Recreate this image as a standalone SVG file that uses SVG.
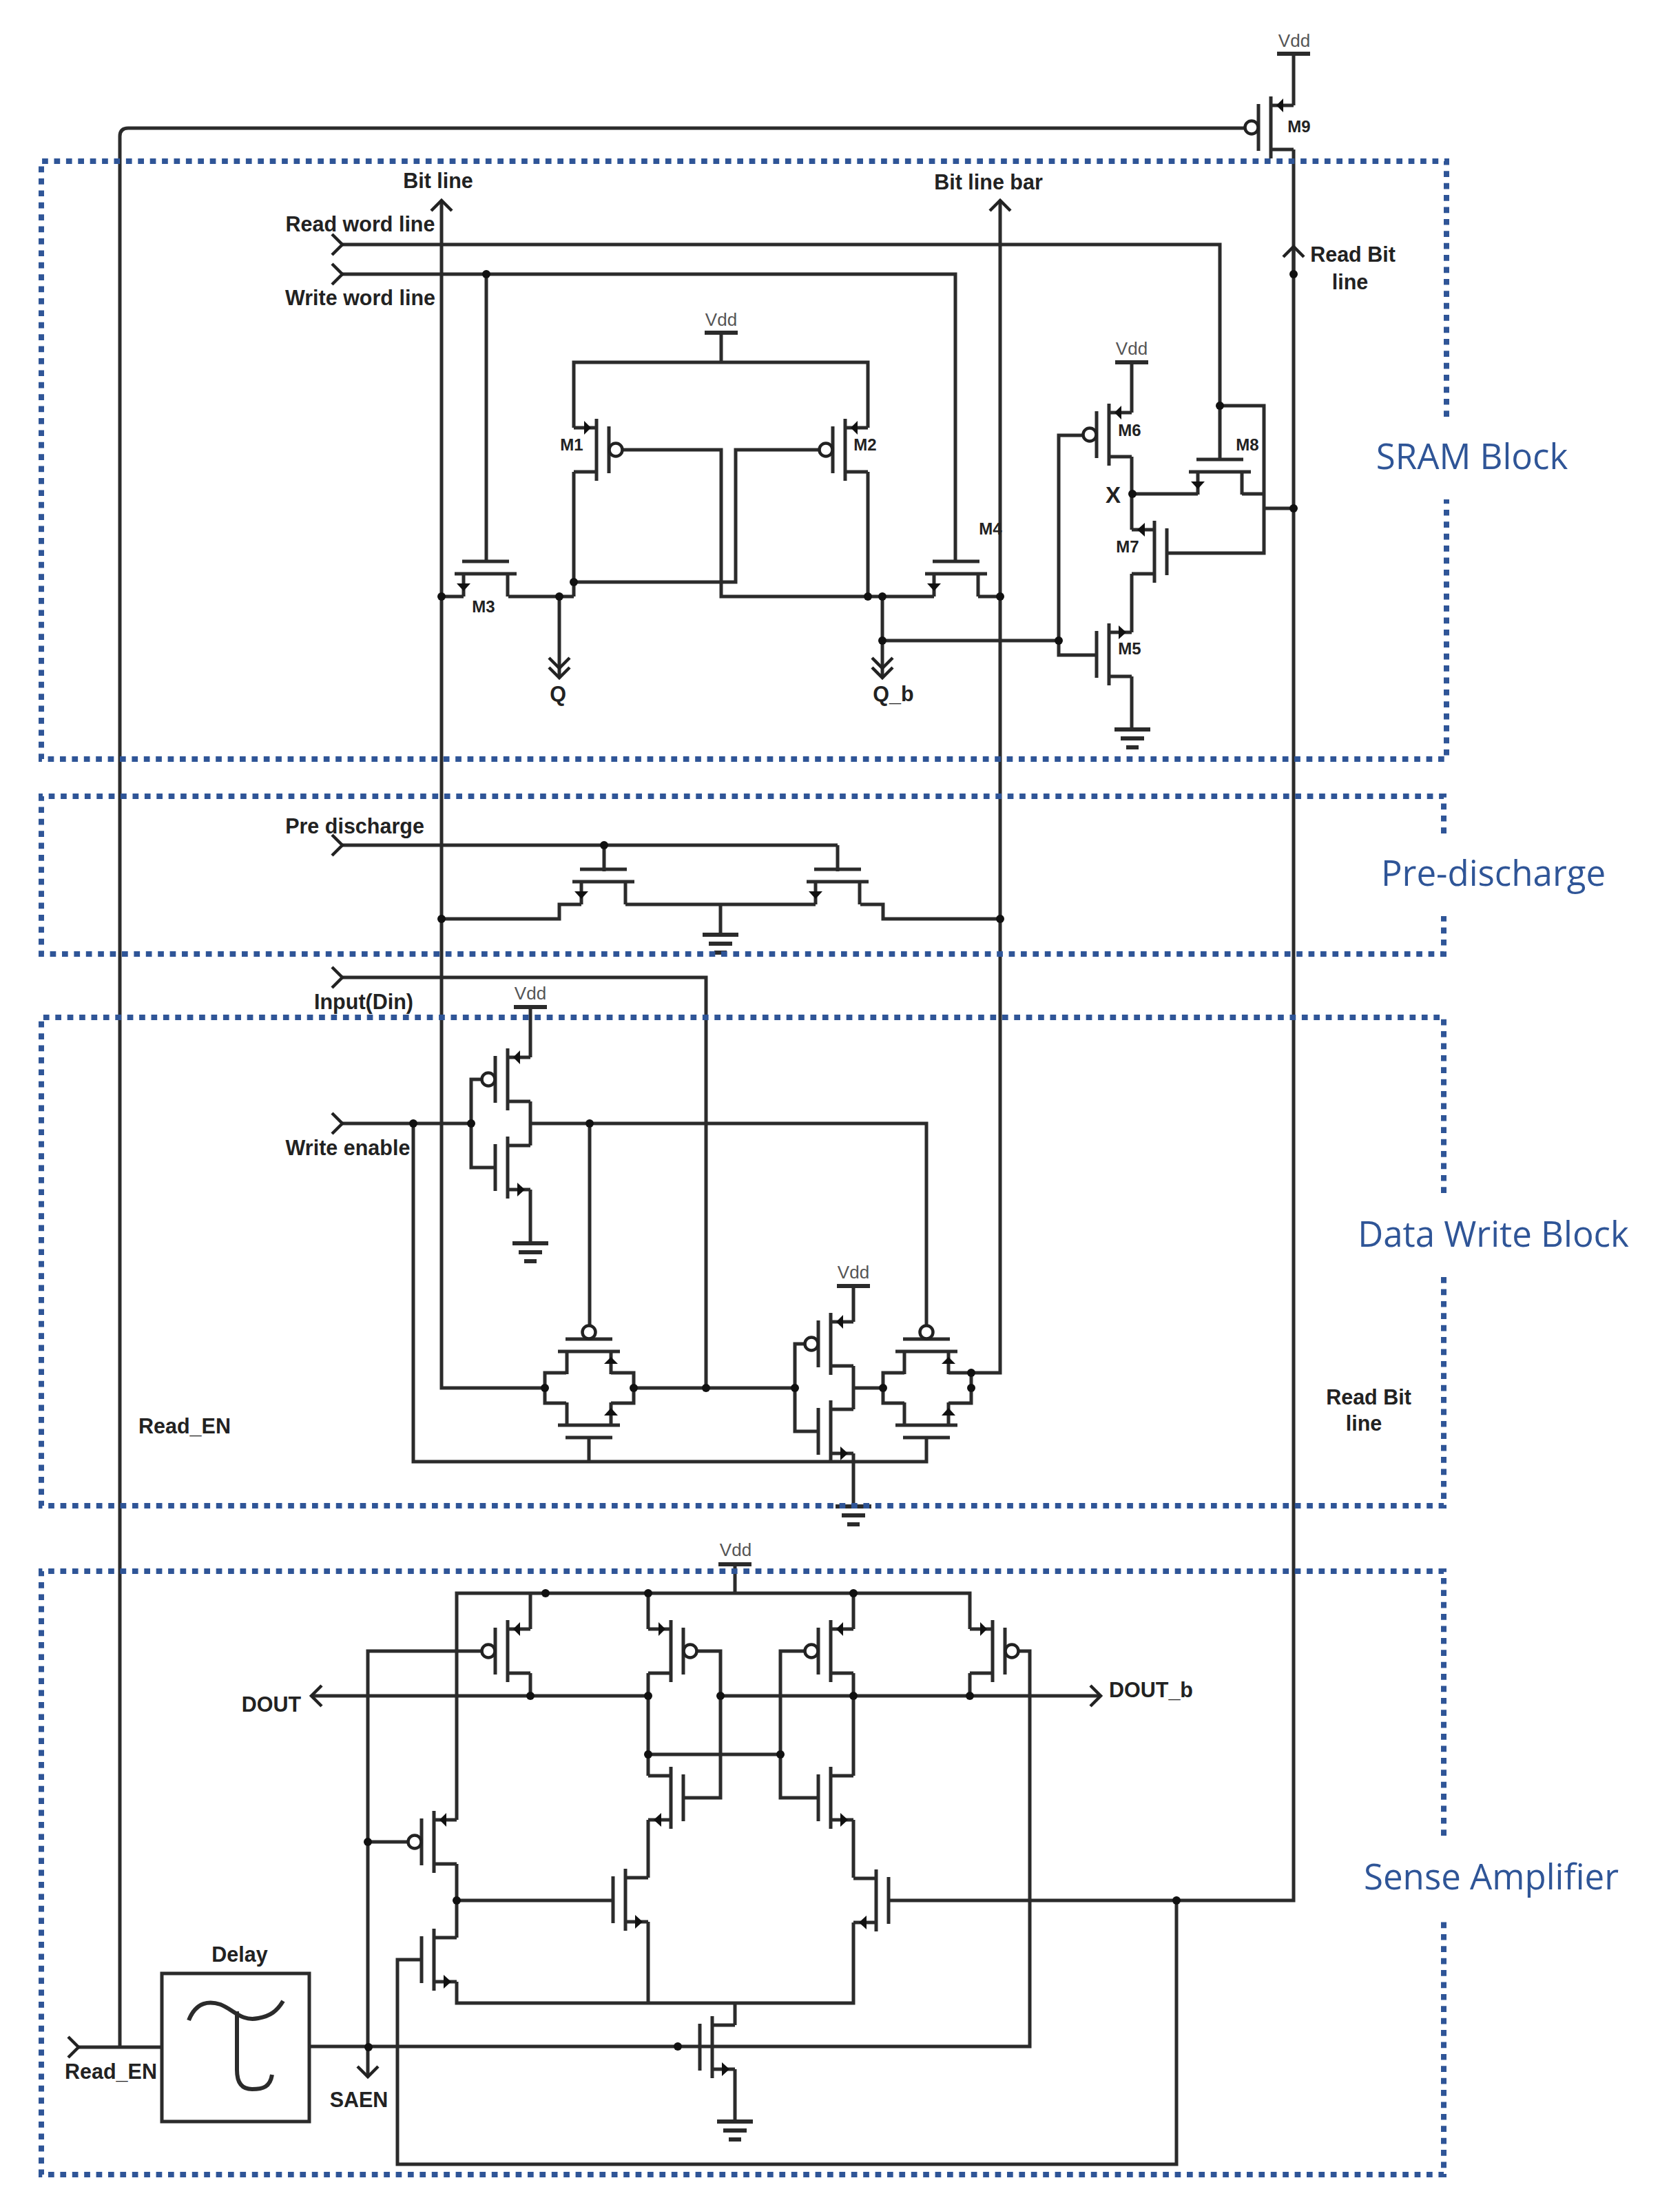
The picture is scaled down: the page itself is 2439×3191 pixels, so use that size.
<svg xmlns="http://www.w3.org/2000/svg" width="2439" height="3191" viewBox="0 0 2439 3191">
<style>
text{font-family:"Liberation Sans",Arial,sans-serif;font-weight:700;font-size:30.5px;fill:#222;text-anchor:middle}
text.m{font-size:24px}
text.v{font-size:26px;font-weight:400;fill:#555}
text.s{font-family:"Open Sans",sans-serif;font-weight:400;font-size:51px;fill:#2F5597}
.w,.t path,.t line,.p{fill:none;stroke:#2b2b2b;stroke-width:5}
.t path.mk{fill:#111;stroke:none}
.bub{fill:#fff;stroke:#222;stroke-width:4.5}
.bar{stroke:#2b2b2b;stroke-width:6;fill:none}
.j circle{fill:#111}
.box{fill:none;stroke:#2F5597;stroke-width:8;stroke-dasharray:8.7 8.7}
</style>
<defs>
<marker id="chev" markerUnits="userSpaceOnUse" markerWidth="24" markerHeight="40" refX="20" refY="20" orient="auto" overflow="visible">
<path d="M5 5L20 20L5 35" fill="none" stroke="#222" stroke-width="4.5"/>
</marker>
<g id="pfet" class="t">
<path d="M0 -45V45M-18 -34V34M0 -32H33M0 32H33"/>
<path class="mk" d="M8 -32L18 -42V-22Z"/>
<circle class="bub" cx="-28" cy="0" r="9.5"/>
</g>
<g id="nfet" class="t">
<path d="M0 -45V45M-18 -34V34M0 -32H33M0 32H33"/>
<path class="mk" d="M14 22L25 32L14 42Z"/>
</g>
<g id="gnd" class="bar">
<path d="M-26 0H26M-17 13H17M-9 26H9"/>
</g>
<path id="vbar" class="bar" d="M-24 0H24"/>
</defs>

<g id="connectors">
<path class="w" d="M174 2972V198Q174 186 186 186H1807"/>
<path class="w" d="M1878 78V153M1878 217V2759H1289"/>
<path class="w" d="M1878 398V358" marker-end="url(#chev)"/>
<path class="w" d="M791 2015H641V291" marker-end="url(#chev)"/>
<path class="w" d="M1410 1993H1452V291" marker-end="url(#chev)"/>
<path class="w" d="M497 355H1771V668" marker-start="url(#chev)"/>
<path class="w" d="M497 398H1387V817" marker-start="url(#chev)"/>
<path class="w" d="M706 398V817"/>
<path class="w" d="M1771 589H1835V803H1694M1803 717H1835M1835 738H1878M1643 717H1739"/>
<path class="w" d="M1047 483V526M833 621V526H1260V621M833 685V866M1260 685V866"/>
<path class="w" d="M738 866H833M833 845H1068V653H1189M904 653H1047V866H1356M673 866H641M1420 866H1452"/>
<path class="w" d="M812 866V970V984" marker-mid="url(#chev)" marker-end="url(#chev)"/>
<path class="w" d="M1281 866V970V984" marker-mid="url(#chev)" marker-end="url(#chev)"/>
<path class="w" d="M1281 930H1537M1571 632H1537V951H1592M1643 526V599M1643 663V769M1643 833V918M1643 982V1059"/>
<path class="w" d="M877 1227V1265M1216 1227V1265M844 1313H812V1334H641M908 1313H1184M1046 1313V1357M1249 1313H1282V1334H1452"/>
<path class="w" d="M497 1227H1216" marker-start="url(#chev)"/>
<path class="w" d="M497 1419H1025V2015" marker-start="url(#chev)"/>
<path class="w" d="M497 1631H684" marker-start="url(#chev)"/>
<path class="w" d="M699 1567H684V1695H719M770 1462V1535M770 1599V1663M770 1727V1805M770 1631H1345V1924M856 1631V1924"/>
<path class="w" d="M600 1631V2122H1345V2085M855 2122V2085"/>
<path class="w" d="M822 1993H791V2037H822M887 1993H920V2037H887M920 2015H1154M1168 1951H1154V2078H1188"/>
<path class="w" d="M1239 1867V1919M1239 1983V2046M1239 2015H1282M1239 2110V2187"/>
<path class="w" d="M1313 1993H1282V2037H1313M1377 1993H1410V2037H1377"/>
<path class="w" d="M1067 2271V2313M663 2642V2313H1408V2365M770 2313V2365M941 2313V2365M1239 2313V2365"/>
<path class="w" d="M770 2429V2462M941 2429V2578M941 2547H1133M941 2642V2726M1239 2429V2578M1239 2642V2726M1408 2429V2462"/>
<path class="w" d="M941 2462H452" marker-end="url(#chev)"/>
<path class="w" d="M1046 2462H1598" marker-end="url(#chev)"/>
<path class="w" d="M1012 2397H1046V2610H992M1168 2397H1133V2610H1188"/>
<path class="w" d="M1479 2397H1495V2971H449"/>
<path class="w" d="M699 2397H534V2972M534 2674H592"/>
<path class="w" d="M534 2971V3015" marker-end="url(#chev)"/>
<path class="w" d="M663 2706V2813M663 2759H890M663 2877V2908H1239V2791M941 2790V2908M1067 2908V2940M1067 3004V3080"/>
<path class="w" d="M1708 2759V3142H577V2845H612"/>
<path class="w" d="M114 2972H235" marker-start="url(#chev)"/>
<g class="j">
<circle cx="706" cy="398" r="6"/><circle cx="1878" cy="398" r="6"/><circle cx="1771" cy="589" r="6"/><circle cx="1644" cy="717" r="6"/><circle cx="1878" cy="738" r="6"/>
<circle cx="1537" cy="930" r="6"/><circle cx="1281" cy="930" r="6"/><circle cx="641" cy="866" r="6"/><circle cx="812" cy="866" r="6"/><circle cx="833" cy="845" r="6"/><circle cx="1260" cy="866" r="6"/><circle cx="1281" cy="866" r="6"/><circle cx="1452" cy="866" r="6"/>
<circle cx="877" cy="1227" r="6"/><circle cx="641" cy="1334" r="6"/><circle cx="1452" cy="1334" r="6"/>
<circle cx="600" cy="1631" r="6"/><circle cx="684" cy="1631" r="6"/><circle cx="856" cy="1631" r="6"/>
<circle cx="791" cy="2015" r="6"/><circle cx="920" cy="2015" r="6"/><circle cx="1025" cy="2015" r="6"/><circle cx="1154" cy="2015" r="6"/><circle cx="1282" cy="2015" r="6"/><circle cx="1410" cy="1993" r="6"/><circle cx="1410" cy="2015" r="6"/>
<circle cx="792" cy="2313" r="6"/><circle cx="941" cy="2313" r="6"/><circle cx="1239" cy="2313" r="6"/>
<circle cx="770" cy="2462" r="6"/><circle cx="941" cy="2462" r="6"/><circle cx="1046" cy="2462" r="6"/><circle cx="1239" cy="2462" r="6"/><circle cx="1408" cy="2462" r="6"/>
<circle cx="941" cy="2547" r="6"/><circle cx="1133" cy="2547" r="6"/><circle cx="534" cy="2674" r="6"/><circle cx="663" cy="2759" r="6"/><circle cx="535" cy="2972" r="6"/><circle cx="984" cy="2971" r="6"/><circle cx="1708" cy="2759" r="6"/>
</g>
</g>

<g id="M1"><use href="#pfet" transform="translate(866,653) scale(-1,1)"/><text class="m" x="830" y="654">M1</text></g>
<g id="M2"><use href="#pfet" transform="translate(1227,653)"/><text class="m" x="1256" y="654">M2</text></g>
<g id="M3"><use href="#nfet" transform="translate(705,833) rotate(90)"/><text class="m" x="702" y="889">M3</text></g>
<g id="M4"><use href="#nfet" transform="translate(1388,833) rotate(90)"/><text class="m" x="1438" y="776">M4</text></g>
<g id="M5"><use href="#nfet" transform="translate(1610,950) scale(1,-1)"/><text class="m" x="1640" y="950">M5</text></g>
<g id="M6"><use href="#pfet" transform="translate(1610,631)"/><text class="m" x="1640" y="633">M6</text></g>
<g id="M7"><use href="#nfet" transform="translate(1676,801) scale(-1,-1)"/><text class="m" x="1637" y="802">M7</text></g>
<g id="M8"><use href="#nfet" transform="translate(1771,685) rotate(90)"/><text class="m" x="1811" y="654">M8</text></g>
<g id="M9"><use href="#pfet" transform="translate(1845,185)"/><text class="m" x="1886" y="192">M9</text></g>

<g id="PD1"><use href="#nfet" transform="translate(876,1280) rotate(90)"/></g>
<g id="PD2"><use href="#nfet" transform="translate(1216,1280) rotate(90)"/></g>

<g id="INV1-P"><use href="#pfet" transform="translate(737,1567)"/></g>
<g id="INV1-N"><use href="#nfet" transform="translate(737,1695)"/></g>
<g id="INV2-P"><use href="#pfet" transform="translate(1206,1951)"/></g>
<g id="INV2-N"><use href="#nfet" transform="translate(1206,2078)"/></g>
<g id="TG1-P"><use href="#pfet" transform="translate(855,1962) rotate(90)"/></g>
<g id="TG1-N"><use href="#nfet" transform="translate(855,2069) rotate(-90)"/></g>
<g id="TG2-P"><use href="#pfet" transform="translate(1345,1962) rotate(90)"/></g>
<g id="TG2-N"><use href="#nfet" transform="translate(1345,2069) rotate(-90)"/></g>

<g id="SA-P1"><use href="#pfet" transform="translate(737,2397)"/></g>
<g id="SA-P2"><use href="#pfet" transform="translate(974,2397) scale(-1,1)"/></g>
<g id="SA-P3"><use href="#pfet" transform="translate(1206,2397)"/></g>
<g id="SA-P4"><use href="#pfet" transform="translate(1441,2397) scale(-1,1)"/></g>
<g id="SA-P5"><use href="#pfet" transform="translate(630,2674)"/></g>
<g id="SA-N1"><use href="#nfet" transform="translate(974,2610) scale(-1,1)"/></g>
<g id="SA-N2"><use href="#nfet" transform="translate(1206,2610)"/></g>
<g id="SA-N3"><use href="#nfet" transform="translate(630,2845)"/></g>
<g id="SA-N4"><use href="#nfet" transform="translate(908,2758)"/></g>
<g id="SA-N5"><use href="#nfet" transform="translate(1272,2759) scale(-1,1)"/></g>
<g id="SA-N6"><use href="#nfet" transform="translate(1034,2972)"/></g>

<g id="vdd-m9"><use href="#vbar" transform="translate(1878,78)"/><text class="v" x="1879" y="68">Vdd</text></g>
<g id="vdd-cell"><use href="#vbar" transform="translate(1047,483)"/><text class="v" x="1047" y="473">Vdd</text></g>
<g id="vdd-m6"><use href="#vbar" transform="translate(1643,526)"/><text class="v" x="1643" y="515">Vdd</text></g>
<g id="vdd-inv1"><use href="#vbar" transform="translate(770,1462)"/><text class="v" x="770" y="1451">Vdd</text></g>
<g id="vdd-inv2"><use href="#vbar" transform="translate(1239,1867)"/><text class="v" x="1239" y="1856">Vdd</text></g>
<g id="vdd-sa"><use href="#vbar" transform="translate(1067,2271)"/><text class="v" x="1068" y="2259">Vdd</text></g>

<g id="gnd-m5"><use href="#gnd" transform="translate(1644,1059)"/></g>
<g id="gnd-pd"><use href="#gnd" transform="translate(1046,1357)"/></g>
<g id="gnd-inv1"><use href="#gnd" transform="translate(770,1805)"/></g>
<g id="gnd-inv2"><use href="#gnd" transform="translate(1239,2187)"/></g>
<g id="gnd-sa"><use href="#gnd" transform="translate(1067,3080)"/></g>

<g id="delay">
<rect x="235" y="2865" width="214" height="215" fill="#fff" stroke="#2b2b2b" stroke-width="5"/>
<path class="p" style="stroke-width:6" d="M274 2933C285 2905 305 2905 320 2910C340 2918 350 2935 375 2930C392 2927 402 2920 411 2905M344 2920V3005C344 3025 352 3033 366 3033C382 3033 392 3030 395 3012"/>
<text x="348" y="2848">Delay</text>
</g>

<g id="labels">
<text x="636" y="273">Bit line</text>
<text x="1435" y="275">Bit line bar</text>
<text x="523" y="336">Read word line</text>
<text x="523" y="443">Write word line</text>
<text x="1964" y="380">Read Bit</text>
<text x="1960" y="420">line</text>
<text x="810" y="1018">Q</text>
<text x="1297" y="1018">Q_b</text>
<text x="1616" y="730" style="font-size:33px">X</text>
<text x="515" y="1210">Pre discharge</text>
<text x="528" y="1465">Input(Din)</text>
<text x="505" y="1677">Write enable</text>
<text x="268" y="2081">Read_EN</text>
<text x="1987" y="2039">Read Bit</text>
<text x="1980" y="2077">line</text>
<text x="394" y="2485">DOUT</text>
<text x="1671" y="2464">DOUT_b</text>
<text x="521" y="3059">SAEN</text>
<text x="161" y="3018">Read_EN</text>
</g>

<g id="blocks">
<path class="box" d="M2100 605V234H60V1102H2100V725"/>
<path class="box" d="M2096 1210V1156H60V1385H2096V1330"/>
<path class="box" d="M2096 1732V1477H60V2186H2096V1850"/>
<path class="box" d="M2096 2665V2281H60V3157H2096V2786"/>
<text class="s" x="2137" y="681">SRAM Block</text>
<text class="s" x="2168" y="1286">Pre-discharge</text>
<text class="s" x="2168" y="1810">Data Write Block</text>
<text class="s" x="2165" y="2743">Sense Amplifier</text>
</g>
</svg>
